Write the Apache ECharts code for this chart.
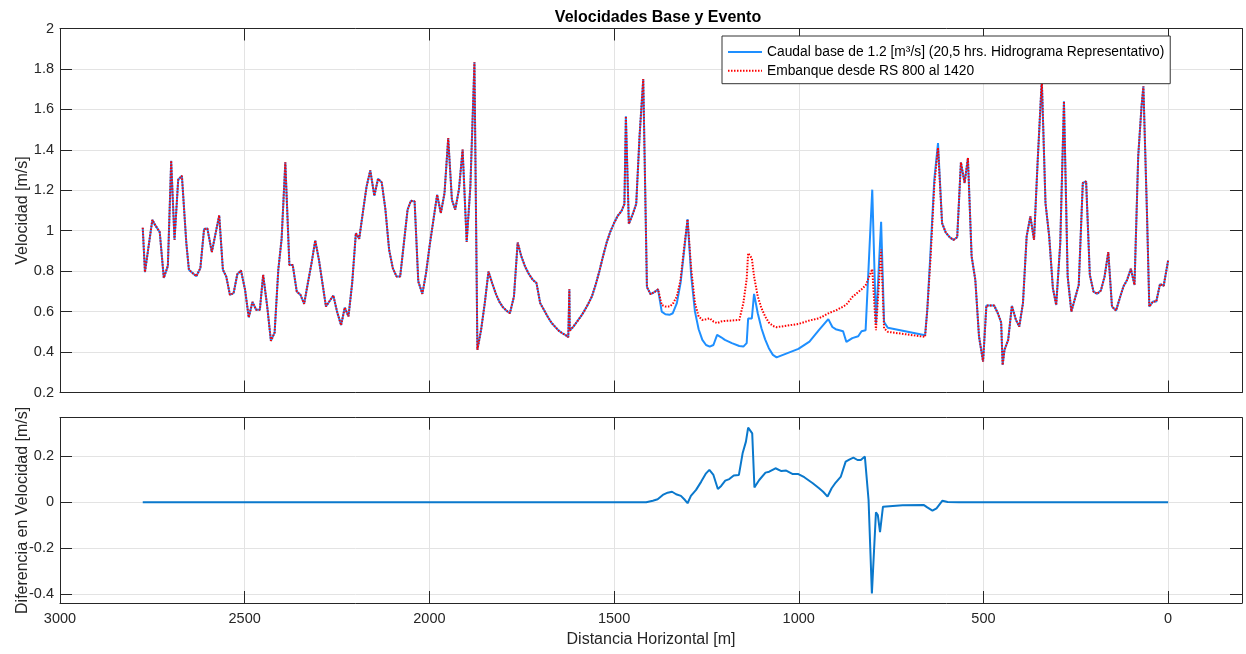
<!DOCTYPE html>
<html><head><meta charset="utf-8">
<script src="https://cdn.jsdelivr.net/npm/echarts@6/dist/echarts.min.js"></script>
<style>html,body{margin:0;padding:0;background:#fff}#c{width:1246px;height:654px}</style>
</head><body><div id="c"></div>
<script>
const distancia = [
2776,2770,2750,2743,2730,2719,2708,2699,2690,2680,
2670,2658,2651,2631,2620,2610,2601,2589,2569,2559,
2550,2540,2530,2520,2510,2499,2489,2479,2469,2459,
2450,2439,2429,2419,2409,2400,2390,2379,2370,2359,
2349,2339,2329,2319,2309,2299,2280,2260,2250,2239,
2229,2219,2209,2199,2190,2179,2170,2160,2149,2139,
2129,2119,2109,2099,2089,2079,2069,2059,2050,2040,
2030,2019,2009,1999,1989,1979,1969,1959,1949,1939,
1930,1920,1910,1899,1889,1878,1870,1860,1850,1840,
1830,1819,1810,1801,1791,1782,1771,1761,1751,1741,
1731,1720,1710,1700,1690,1680,1670,1660,1650,1640,
1630,1624,1621,1620,1610,1600,1590,1580,1570,1560,
1550,1540,1530,1520,1510,1500,1490,1480,1472,1468,
1460,1450,1440,1431,1421,1411,1401,1391,1381,1371,
1361,1350,1341,1330,1320,1311,1301,1291,1281,1271,
1261,1251,1241,1231,1221,1210,1200,1181,1161,1150,
1141,1137,1127,1121,1111,1101,1091,1081,1070,1060,
1001,971,945,920,909,900,880,871,855,839,
830,819,801,791,777,769,759,658,652,643,
633,623,612,602,591,581,571,561,551,542,
532,522,512,501,496,492,471,461,452,448,
443,433,423,412,403,393,383,373,363,353,
342,332,322,312,303,292,282,272,262,252,
242,231,222,212,202,192,182,172,162,152,
141,131,121,111,101,91,81,72,67,57,
51,41,32,22,12,0];

const velBase = [
1.015,0.795,1.054,1.03,0.993,0.767,0.826,1.346,0.955,1.252,
1.272,0.939,0.807,0.775,0.815,1.008,1.011,0.894,1.076,0.807,
0.774,0.683,0.691,0.785,0.803,0.708,0.571,0.648,0.609,0.609,
0.782,0.625,0.455,0.496,0.807,0.96,1.338,0.831,0.831,0.699,
0.683,0.638,0.741,0.84,0.952,0.856,0.625,0.68,0.6,0.533,
0.62,0.576,0.741,0.988,0.96,1.104,1.219,1.298,1.173,1.257,
1.239,1.104,0.906,0.815,0.774,0.774,0.939,1.104,1.148,1.145,
0.749,0.688,0.79,0.93,1.054,1.178,1.087,1.186,1.458,1.153,
1.104,1.203,1.401,0.944,1.219,1.833,0.411,0.51,0.642,0.798,
0.741,0.683,0.647,0.622,0.604,0.592,0.675,0.942,0.873,0.823,
0.787,0.757,0.741,0.642,0.609,0.576,0.546,0.526,0.506,0.493,
0.482,0.473,0.711,0.506,0.526,0.551,0.576,0.605,0.638,0.675,
0.732,0.798,0.873,0.942,0.996,1.038,1.074,1.097,1.132,1.566,
1.034,1.079,1.133,1.467,1.75,0.721,0.686,0.696,0.711,0.6,
0.587,0.584,0.592,0.642,0.741,0.889,1.057,0.774,0.6,0.513,
0.46,0.435,0.427,0.435,0.485,0.473,0.46,0.444,0.43,0.427,
0.444,0.566,0.566,0.688,0.592,0.518,0.463,0.419,0.386,0.374,
0.416,0.452,0.51,0.563,0.524,0.513,0.503,0.45,0.469,0.478,
0.503,0.508,1.203,0.541,1.044,0.549,0.52,0.483,0.609,0.906,
1.253,1.433,1.038,0.991,0.967,0.955,0.968,1.338,1.236,1.36,
0.873,0.757,0.477,0.353,0.361,0.63,0.63,0.592,0.546,0.336,
0.411,0.46,0.629,0.559,0.526,0.642,0.972,1.071,0.955,1.351,
1.747,1.137,0.972,0.716,0.633,0.939,1.64,0.774,0.6,0.666,
0.732,1.236,1.244,0.782,0.699,0.688,0.704,0.774,0.894,0.625,
0.605,0.666,0.724,0.757,0.812,0.732,1.368,1.615,1.714,1.07,
0.625,0.65,0.65,0.736,0.728,0.853];

const velEvento = [
1.015,0.795,1.054,1.03,0.993,0.767,0.826,1.346,0.955,1.252,
1.272,0.939,0.807,0.775,0.815,1.008,1.011,0.894,1.076,0.807,
0.774,0.683,0.691,0.785,0.803,0.708,0.571,0.648,0.609,0.609,
0.782,0.625,0.455,0.496,0.807,0.96,1.338,0.831,0.831,0.699,
0.683,0.638,0.741,0.84,0.952,0.856,0.625,0.68,0.6,0.533,
0.62,0.576,0.741,0.988,0.96,1.104,1.219,1.298,1.173,1.257,
1.239,1.104,0.906,0.815,0.774,0.774,0.939,1.104,1.148,1.145,
0.749,0.688,0.79,0.93,1.054,1.178,1.087,1.186,1.458,1.153,
1.104,1.203,1.401,0.944,1.219,1.833,0.411,0.51,0.642,0.798,
0.741,0.683,0.647,0.622,0.604,0.592,0.675,0.942,0.873,0.823,
0.787,0.757,0.741,0.642,0.609,0.576,0.546,0.526,0.506,0.493,
0.482,0.473,0.711,0.506,0.526,0.551,0.576,0.605,0.638,0.675,
0.732,0.798,0.873,0.942,0.996,1.038,1.074,1.097,1.132,1.566,
1.034,1.079,1.133,1.467,1.75,0.721,0.686,0.696,0.711,0.633,
0.625,0.625,0.638,0.675,0.757,0.906,1.057,0.807,0.642,0.576,
0.559,0.562,0.567,0.551,0.543,0.551,0.554,0.556,0.559,0.642,
0.76,0.889,0.864,0.774,0.675,0.617,0.576,0.546,0.529,0.523,
0.539,0.556,0.567,0.591,0.6,0.605,0.625,0.635,0.672,0.697,
0.71,0.73,0.81,0.508,0.907,0.517,0.5,0.475,0.609,0.87,
1.225,1.41,1.038,0.991,0.967,0.955,0.968,1.338,1.236,1.36,
0.873,0.757,0.477,0.353,0.361,0.63,0.63,0.592,0.546,0.336,
0.411,0.46,0.629,0.559,0.526,0.642,0.972,1.071,0.955,1.351,
1.747,1.137,0.972,0.716,0.633,0.939,1.64,0.774,0.6,0.666,
0.732,1.236,1.244,0.782,0.699,0.688,0.704,0.774,0.894,0.625,
0.605,0.666,0.724,0.757,0.812,0.732,1.368,1.615,1.714,1.07,
0.625,0.65,0.65,0.736,0.728,0.853];

const distDif = [
2776,1413,1395,1382,1368,1355,1343,1332,1319,1308,
1301,1292,1278,1264,1251,1242,1231,1219,1210,1199,
1188,1176,1162,1152,1143,1137,1126,1120,1107,1090,
1080,1063,1047,1034,1016,1001,985,962,945,934,
922,911,900,886,873,862,852,841,832,821,
811,802,791,786,780,772,719,661,652,638,
627,611,597,566,0];

const velDif = [
0,0,0.007,0.013,0.032,0.042,0.046,0.035,0.028,0.01,
-0.004,0.028,0.054,0.09,0.126,0.141,0.119,0.058,0.071,0.094,
0.101,0.117,0.119,0.213,0.264,0.325,0.3,0.065,0.097,0.129,
0.133,0.148,0.136,0.138,0.123,0.123,0.109,0.083,0.061,0.046,
0.025,0.061,0.086,0.112,0.177,0.187,0.194,0.184,0.184,0.199,
0.01,-0.396,-0.043,-0.055,-0.13,-0.019,-0.013,-0.012,-0.022,-0.036,
-0.026,0.007,0.001,0,0];

const xTicks = [0, 500, 1000, 1500, 2000, 2500, 3000];
const yTicksDif = [-0.4, -0.2, 0, 0.2];

const serieBase = 'Caudal base de 1.2 [m\u00b3/s] (20,5 hrs. Hidrograma Representativo)';
const serieEvento = 'Embanque desde RS 800 al 1420';

const FONT = "'Liberation Sans', Arial, Helvetica, sans-serif";
const AX = '#262626';
const GRIDC = '#e3e3e3';

function zip(a, b) { return a.map((v, i) => [v, b[i]]); }
const plain = v => String(v);

function xAxisDef(grid, pos, labels, name) {
  return {
    type: 'value', gridIndex: grid, position: pos, inverse: true, min: -200, max: 3000,
    axisLine: { show: true, onZero: false, lineStyle: { color: AX, width: 1 } },
    axisTick: { show: true, inside: true, length: 12, customValues: xTicks, lineStyle: { color: AX } },
    axisLabel: { show: labels, customValues: xTicks, formatter: plain, margin: 8, fontSize: 14.5, color: AX, fontFamily: FONT },
    splitLine: { show: pos === 'bottom', lineStyle: { color: GRIDC, width: 1 } },
    name: name || '', nameLocation: 'middle', nameGap: 29, nameMoveOverlap: false,
    nameTextStyle: { fontSize: 16, color: AX, fontFamily: FONT }
  };
}

function yAxisDef(grid, pos, lo, hi, opts) {
  const left = pos === 'left';
  const ax = {
    type: 'value', gridIndex: grid, position: pos, min: lo, max: hi,
    axisLine: { show: true, onZero: false, lineStyle: { color: AX } },
    axisTick: { show: true, inside: true, length: 12, lineStyle: { color: AX } },
    axisLabel: { show: left, formatter: plain, fontSize: 14.5, color: AX, margin: 6, fontFamily: FONT },
    splitLine: { show: left, lineStyle: { color: GRIDC } },
    nameLocation: 'middle', nameGap: 29.5, nameMoveOverlap: false,
    nameTextStyle: { fontSize: 16, color: AX, fontFamily: FONT }
  };
  if (opts.interval) ax.interval = opts.interval;
  if (opts.ticks) { ax.axisTick.customValues = opts.ticks; ax.axisLabel.customValues = opts.ticks; }
  if (left && opts.name) ax.name = opts.name;
  return ax;
}

const option = {
  animation: false,
  backgroundColor: '#fff',
  textStyle: { fontFamily: FONT },
  title: {
    text: 'Velocidades Base y Evento', left: 653, top: 5, textAlign: 'center',
    textStyle: { fontSize: 16, fontWeight: 'bold', color: '#000', fontFamily: FONT }
  },
  legend: {
    data: [serieBase, serieEvento], orient: 'vertical', left: 722, top: 36,
    padding: [9, 6, 6, 5], itemGap: 4.7, itemWidth: 34, itemHeight: 14,
    itemStyle: { opacity: 0 },
    backgroundColor: '#fff', borderColor: '#333', borderWidth: 1, borderRadius: 0,
    textStyle: { fontSize: 13.8, color: '#000', fontFamily: FONT }
  },
  grid: [
    { left: 60, top: 28.5, width: 1182, height: 364, outerBoundsMode: 'none', containLabel: false },
    { left: 60, top: 417.7, width: 1182, height: 185.3, outerBoundsMode: 'none', containLabel: false }
  ],
  xAxis: [
    xAxisDef(0, 'bottom', false),
    xAxisDef(0, 'top', false),
    xAxisDef(1, 'bottom', true, 'Distancia Horizontal [m]'),
    xAxisDef(1, 'top', false)
  ],
  yAxis: [
    yAxisDef(0, 'left', 0.2, 2, { interval: 0.2, name: 'Velocidad [m/s]' }),
    yAxisDef(0, 'right', 0.2, 2, { interval: 0.2 }),
    yAxisDef(1, 'left', -0.438, 0.368, { ticks: yTicksDif, name: 'Diferencia en Velocidad [m/s]' }),
    yAxisDef(1, 'right', -0.438, 0.368, { ticks: yTicksDif })
  ],
  series: [
    {
      name: serieBase, type: 'line', xAxisIndex: 0, yAxisIndex: 0,
      data: zip(distancia, velBase), symbol: 'none', showSymbol: false,
      lineStyle: { color: '#1e8fff', width: 2 }, itemStyle: { color: '#1e8fff' }, z: 2
    },
    {
      name: serieEvento, type: 'line', xAxisIndex: 0, yAxisIndex: 0,
      data: zip(distancia, velEvento), symbol: 'none', showSymbol: false,
      lineStyle: { color: '#ff0000', width: 2, type: [1.5, 1.5] }, itemStyle: { color: '#ff0000' }, z: 3
    },
    {
      name: 'Diferencia', type: 'line', xAxisIndex: 2, yAxisIndex: 2,
      data: zip(distDif, velDif), symbol: 'none', showSymbol: false,
      lineStyle: { color: '#0a78cc', width: 2 }, itemStyle: { color: '#0a78cc' }
    }
  ]
};

const chart = echarts.init(document.getElementById('c'), null, { renderer: 'canvas' });
chart.setOption(option);
</script>
</body></html>
